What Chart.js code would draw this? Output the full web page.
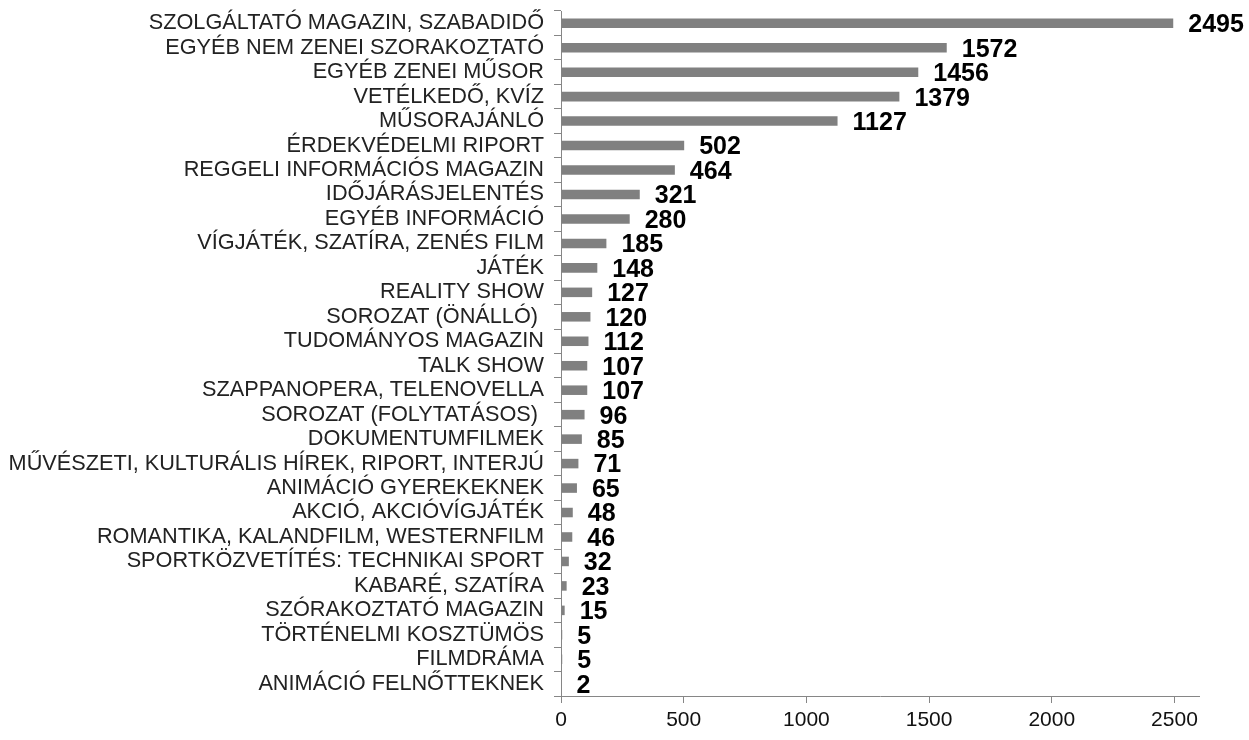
<!DOCTYPE html>
<html>
<head>
<meta charset="utf-8">
<script src="https://cdn.jsdelivr.net/npm/chart.js@4/dist/chart.umd.min.js"></script>
<style>
    body { margin: 0; background: #fff; }
</style>
</head>
<body>
<canvas id="chart" width="1249" height="740"></canvas>
<script>
const categories = [
    'SZOLGÁLTATÓ MAGAZIN, SZABADIDŐ',
    'EGYÉB NEM ZENEI SZORAKOZTATÓ',
    'EGYÉB ZENEI MŰSOR',
    'VETÉLKEDŐ, KVÍZ',
    'MŰSORAJÁNLÓ',
    'ÉRDEKVÉDELMI RIPORT',
    'REGGELI INFORMÁCIÓS MAGAZIN',
    'IDŐJÁRÁSJELENTÉS',
    'EGYÉB INFORMÁCIÓ',
    'VÍGJÁTÉK, SZATÍRA, ZENÉS FILM',
    'JÁTÉK',
    'REALITY SHOW',
    'SOROZAT (ÖNÁLLÓ) ',
    'TUDOMÁNYOS MAGAZIN',
    'TALK SHOW',
    'SZAPPANOPERA, TELENOVELLA',
    'SOROZAT (FOLYTATÁSOS) ',
    'DOKUMENTUMFILMEK',
    'MŰVÉSZETI, KULTURÁLIS HÍREK, RIPORT, INTERJÚ',
    'ANIMÁCIÓ GYEREKEKNEK',
    'AKCIÓ, AKCIÓVÍGJÁTÉK',
    'ROMANTIKA, KALANDFILM, WESTERNFILM',
    'SPORTKÖZVETÍTÉS: TECHNIKAI SPORT',
    'KABARÉ, SZATÍRA',
    'SZÓRAKOZTATÓ MAGAZIN',
    'TÖRTÉNELMI KOSZTÜMÖS',
    'FILMDRÁMA',
    'ANIMÁCIÓ FELNŐTTEKNEK'
]

const values = [
    2495, 1572, 1456, 1379, 1127, 502, 464, 321, 280, 185,
    148, 127, 120, 112, 107, 107, 96, 85, 71, 65,
    48, 46, 32, 23, 15, 5, 5, 2
]

const xTicks = [0, 500, 1000, 1500, 2000, 2500]

const FONT = '"Liberation Sans", Arial, sans-serif'
const AXIS_GREY = '#868686'

// number next to the end of each bar
const valueLabels = {
    id: 'valueLabels',
    afterDatasetsDraw(chart) {
        const ctx = chart.ctx
        const meta = chart.getDatasetMeta(0)
        ctx.save()
        ctx.font = 'bold 25px ' + FONT
        ctx.fillStyle = '#000'
        ctx.textAlign = 'left'
        ctx.textBaseline = 'middle'
        meta.data.forEach((bar, i) => {
            ctx.fillText(String(values[i]), bar.x + 15, bar.y + 2)
        })
        ctx.restore()
    }
}

new Chart(document.getElementById('chart'), {
    type: 'bar',
    data: {
        labels: categories,
        datasets: [{
            data: values,
            backgroundColor: '#808080',
            borderWidth: 0,
            categoryPercentage: 1,
            barPercentage: 0.39
        }]
    },
    options: {
        responsive: false,
        animation: false,
        indexAxis: 'y',
        layout: {
            padding: { top: 11, right: 50, left: 0, bottom: 0 }
        },
        plugins: {
            legend: { display: false },
            tooltip: { enabled: false }
        },
        scales: {
            x: {
                min: 0,
                max: 2600,
                afterBuildTicks: (scale) => {
                    scale.ticks = xTicks.map(v => ({ value: v }))
                },
                afterFit: (scale) => { scale.height = 44 },
                border: { color: AXIS_GREY, width: 1 },
                grid: {
                    drawOnChartArea: false,
                    drawTicks: true,
                    tickLength: 7,
                    color: AXIS_GREY
                },
                ticks: {
                    font: { family: FONT, size: 21 },
                    color: '#111',
                    padding: 5,
                    maxRotation: 0,
                    callback: (v) => String(v)
                }
            },
            y: {
                afterFit: (scale) => {
                    scale.width = 561
                    scale.paddingTop = 0
                    scale.paddingBottom = 0
                },
                border: { color: AXIS_GREY, width: 1 },
                grid: {
                    offset: true,
                    drawOnChartArea: false,
                    drawTicks: true,
                    tickLength: 7,
                    color: AXIS_GREY
                },
                ticks: {
                    autoSkip: false,
                    font: { family: FONT, size: 21.7 },
                    color: '#222',
                    padding: 10
                }
            }
        }
    },
    plugins: [valueLabels]
})
</script>
</body>
</html>
